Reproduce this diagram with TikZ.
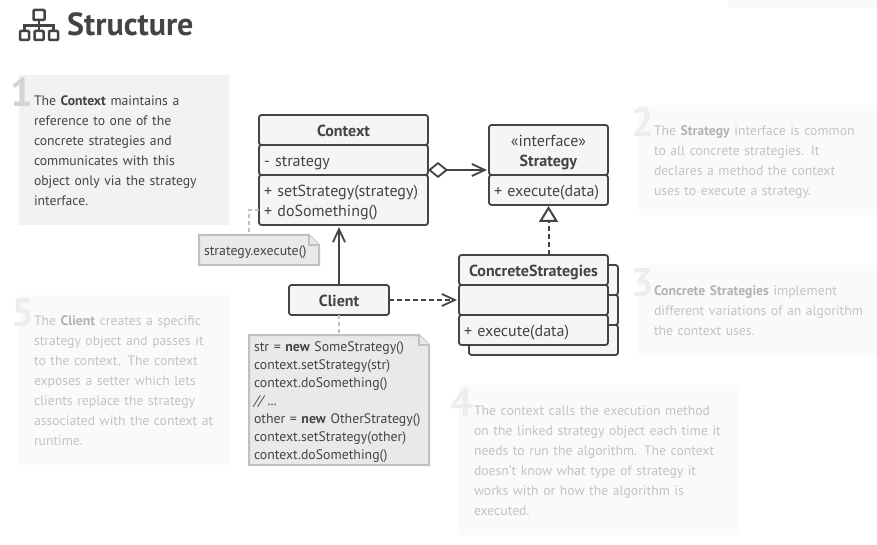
\documentclass[tikz,border=0pt]{standalone}
\usepackage{fontspec}
\setmainfont{PT Sans}
\usetikzlibrary{arrows.meta, positioning, calc, backgrounds}
\definecolor{ink}{HTML}{444444}
\definecolor{boxfill}{HTML}{F5F5F5}
\definecolor{notefill}{HTML}{E9E9E9}
\definecolor{noteedge}{HTML}{C0C0C0}
\definecolor{fadedtext}{HTML}{C3C3C3}
\definecolor{fadedbold}{HTML}{B2B2B2}
\newcommand{\classfont}{\fontsize{16}{20}\selectfont}
\newcommand{\notefont}{\fontsize{13.8}{18}\selectfont}
\newcommand{\notefold}[1]{%
  \begin{pgfonlayer}{background}
    \path [notepaper] ($(#1.north east)+(-10,0)$) -- (#1.north west) -- (#1.south west) -- (#1.south east) -- ($(#1.north east)+(0,10)$) -- cycle;
    \path [notepaper, line width=1.5pt] ($(#1.north east)+(-10,0)$) -- ($(#1.north east)+(-10,10)$) -- ($(#1.north east)+(0,10)$);
  \end{pgfonlayer}}
\tikzstyle{panel} = [rectangle, anchor=north west, fill=#1, inner xsep=15pt, inner ysep=0pt, outer sep=0pt, align=left, font=\fontsize{13.7}{20}\selectfont, execute at begin node={\rule{0pt}{15.5pt}}, execute at end node={\rule[-4.5pt]{0pt}{4.5pt}}]
\tikzstyle{numeral} = [inner sep=0pt, text height=28pt, text depth=0pt, font=\fontsize{40}{40}\selectfont\bfseries]
\tikzstyle{compart} = [rectangle, rounded corners=2.5pt, draw=ink, line width=1.8pt, fill=boxfill, text=ink, inner xsep=5pt, inner ysep=0pt, outer sep=0pt, align=left, font=\classfont, execute at begin node={\rule{0pt}{16.5pt}}, execute at end node={\rule[-3.5pt]{0pt}{3.5pt}}]
\tikzstyle{notebox} = [rectangle, text=ink, inner xsep=5pt, inner ysep=0pt, outer sep=0pt, align=left, font=\notefont, execute at begin node={\rule{0pt}{14pt}}, execute at end node={\rule[-4pt]{0pt}{4pt}}]
\tikzstyle{notepaper} = [fill=notefill, draw=noteedge, line width=2pt]
\tikzstyle{connector} = [draw=ink, line width=1.8pt, shorten >=2pt, -{Straight Barb[length=13pt, width=12pt]}]
\tikzstyle{noteline} = [draw=noteedge, line width=2pt, dash pattern=on 4pt off 3pt]
\tikzstyle{iconline} = [draw=ink, line width=2.5pt]

\begin{document}
\begin{tikzpicture}[x=1pt, y=-1pt, node distance=0pt]
    \clip (0,0) rectangle (877,545);
    \fill [black!2] (728,0) rectangle (877,8);

    % Heading
    \draw [iconline, rounded corners=1pt] (33.5,10) rectangle (44.5,20);
    \draw [iconline, rounded corners=1pt] (20,31) rectangle (29,40);
    \draw [iconline, rounded corners=1pt] (34.5,31) rectangle (43.5,40);
    \draw [iconline, rounded corners=1pt] (49,31) rectangle (58,40);
    \draw [iconline] (39,20) -- (39,31) (24.5,31) -- (24.5,25.5) -- (53.5,25.5) -- (53.5,31);
    \node [anchor=base west, inner sep=0pt, text=ink, font=\fontsize{32}{32}\selectfont\bfseries] (heading) at (67,36) {Structure};

    % Panels
    \node [panel=black!5, text width=180pt, minimum height=150pt, text=ink] (panel1) at (19,75) {The \textbf{Context} maintains a\\reference to one of the\\concrete strategies and\\communicates with this\\object only via the strategy\\interface.};
    \node [panel=black!2, text width=220pt, minimum height=110pt, text=fadedtext] (panel2) at (639,105) {The \textcolor{fadedbold}{\textbf{Strategy}} interface is common\\to all concrete strategies. It\\declares a method the context\\uses to execute a strategy.};
    \node [panel=black!2, text width=220pt, minimum height=90pt, text=fadedtext] (panel3) at (639,265) {\textcolor{fadedbold}{\textbf{Concrete Strategies}} implement\\different variations of an algorithm\\the context uses.};
    \node [panel=black!2, text width=250pt, minimum height=150pt, text=fadedtext] (panel4) at (459,385) {The context calls the execution method\\\mbox{on the linked strategy object each time it}\\needs to run the algorithm. The context\\doesn't know what type of strategy it\\works with or how the algorithm is\\executed.};
    \node [panel=black!2, text width=180pt, minimum height=170pt, text=fadedtext] (panel5) at (19,295) {The \textcolor{fadedbold}{\textbf{Client}} creates a specific\\strategy object and passes it\\to the context. The context\\exposes a setter which lets\\clients replace the strategy\\\mbox{associated with the context at}\\runtime.};

    \node [numeral, text=black!17, below right=3pt and -9pt of panel1.north west] (num1) {1};
    \node [numeral, text=black!7, below right=3pt and -8pt of panel2.north west] (num2) {2};
    \node [numeral, text=black!7, below right=3pt and -8pt of panel3.north west] (num3) {3};
    \node [numeral, text=black!7, below right=3pt and -9pt of panel4.north west] (num4) {4};
    \node [numeral, text=black!7, below right=3pt and -8pt of panel5.north west] (num5) {5};

    % Classes
    \node [compart, anchor=north west, text width=159pt, minimum height=30pt, align=center] (contexthead) at (259,115) {\textbf{Context}};
    \node [compart, below=of contexthead, text width=159pt, minimum height=30pt] (contextattr) {- strategy};
    \node [compart, below=of contextattr, text width=159pt, minimum height=50pt] (contextops) {+ setStrategy(strategy)\\+ doSomething()};

    \node [compart, anchor=north west, text width=109pt, minimum height=50pt, align=center] (strategyhead) at (489,125) {«interface»\\\textbf{Strategy}};
    \node [compart, below=of strategyhead, text width=109pt, minimum height=30pt] (strategyops) {+ execute(data)};

    \node [compart, anchor=north west, text width=139pt, minimum height=30pt] (backhead) at (469,265) {};
    \node [compart, below=of backhead, text width=139pt, minimum height=30pt] (backattr) {};
    \node [compart, below=of backattr, text width=139pt, minimum height=30pt] (backops) {};
    \node [compart, anchor=north west, text width=139pt, minimum height=30pt, align=center] (concretehead) at (459,255) {\textbf{ConcreteStrategies}};
    \node [compart, below=of concretehead, text width=139pt, minimum height=30pt] (concreteattr) {};
    \node [compart, below=of concreteattr, text width=139pt, minimum height=30pt] (concreteops) {+ execute(data)};

    \node [compart, anchor=north west, text width=90pt, minimum height=30pt, align=center] (client) at (289,285) {\textbf{Client}};

    % Notes
    \node [notebox, anchor=north west, text width=110pt, minimum height=30pt] (execnote) at (199,235) {strategy.execute()};
    \notefold{execnote}
    \node [notebox, anchor=north west, text width=170pt, minimum height=130pt] (clientnote) at (249,335) {str = \textbf{new} SomeStrategy()\\context.setStrategy(str)\\context.doSomething()\\\textit{// ...}\\other = \textbf{new} OtherStrategy()\\context.setStrategy(other)\\context.doSomething()};
    \notefold{clientnote}

    % Arrows
    \coordinate (aggrlevel) at (458,170);
    \coordinate (execlevel) at (249,210);
    \path [connector, {Diamond[open, fill=white, length=20pt, width=16pt]}-{Straight Barb[length=13pt, width=12pt]}] (contextattr.east |- aggrlevel) -- (strategyhead.west |- aggrlevel);
    \draw [draw=ink, line width=2pt, dash pattern=on 5pt off 3pt, -{Triangle[open, fill=white, length=16pt, width=19pt]}, shorten >=1pt] (strategyops.south |- concretehead.north) -- (strategyops.south);
    \path [connector] (client.north) -- (client.north |- contextops.south);
    \path [connector, dash pattern=on 5pt off 3pt] (client.east) -- (concreteattr.west);
    \path [noteline] (contextops.west |- execlevel) -- (execlevel) -- (execlevel |- execnote.north);
    \path [noteline] (client.south) -- (clientnote.north);
\end{tikzpicture}
\end{document}
